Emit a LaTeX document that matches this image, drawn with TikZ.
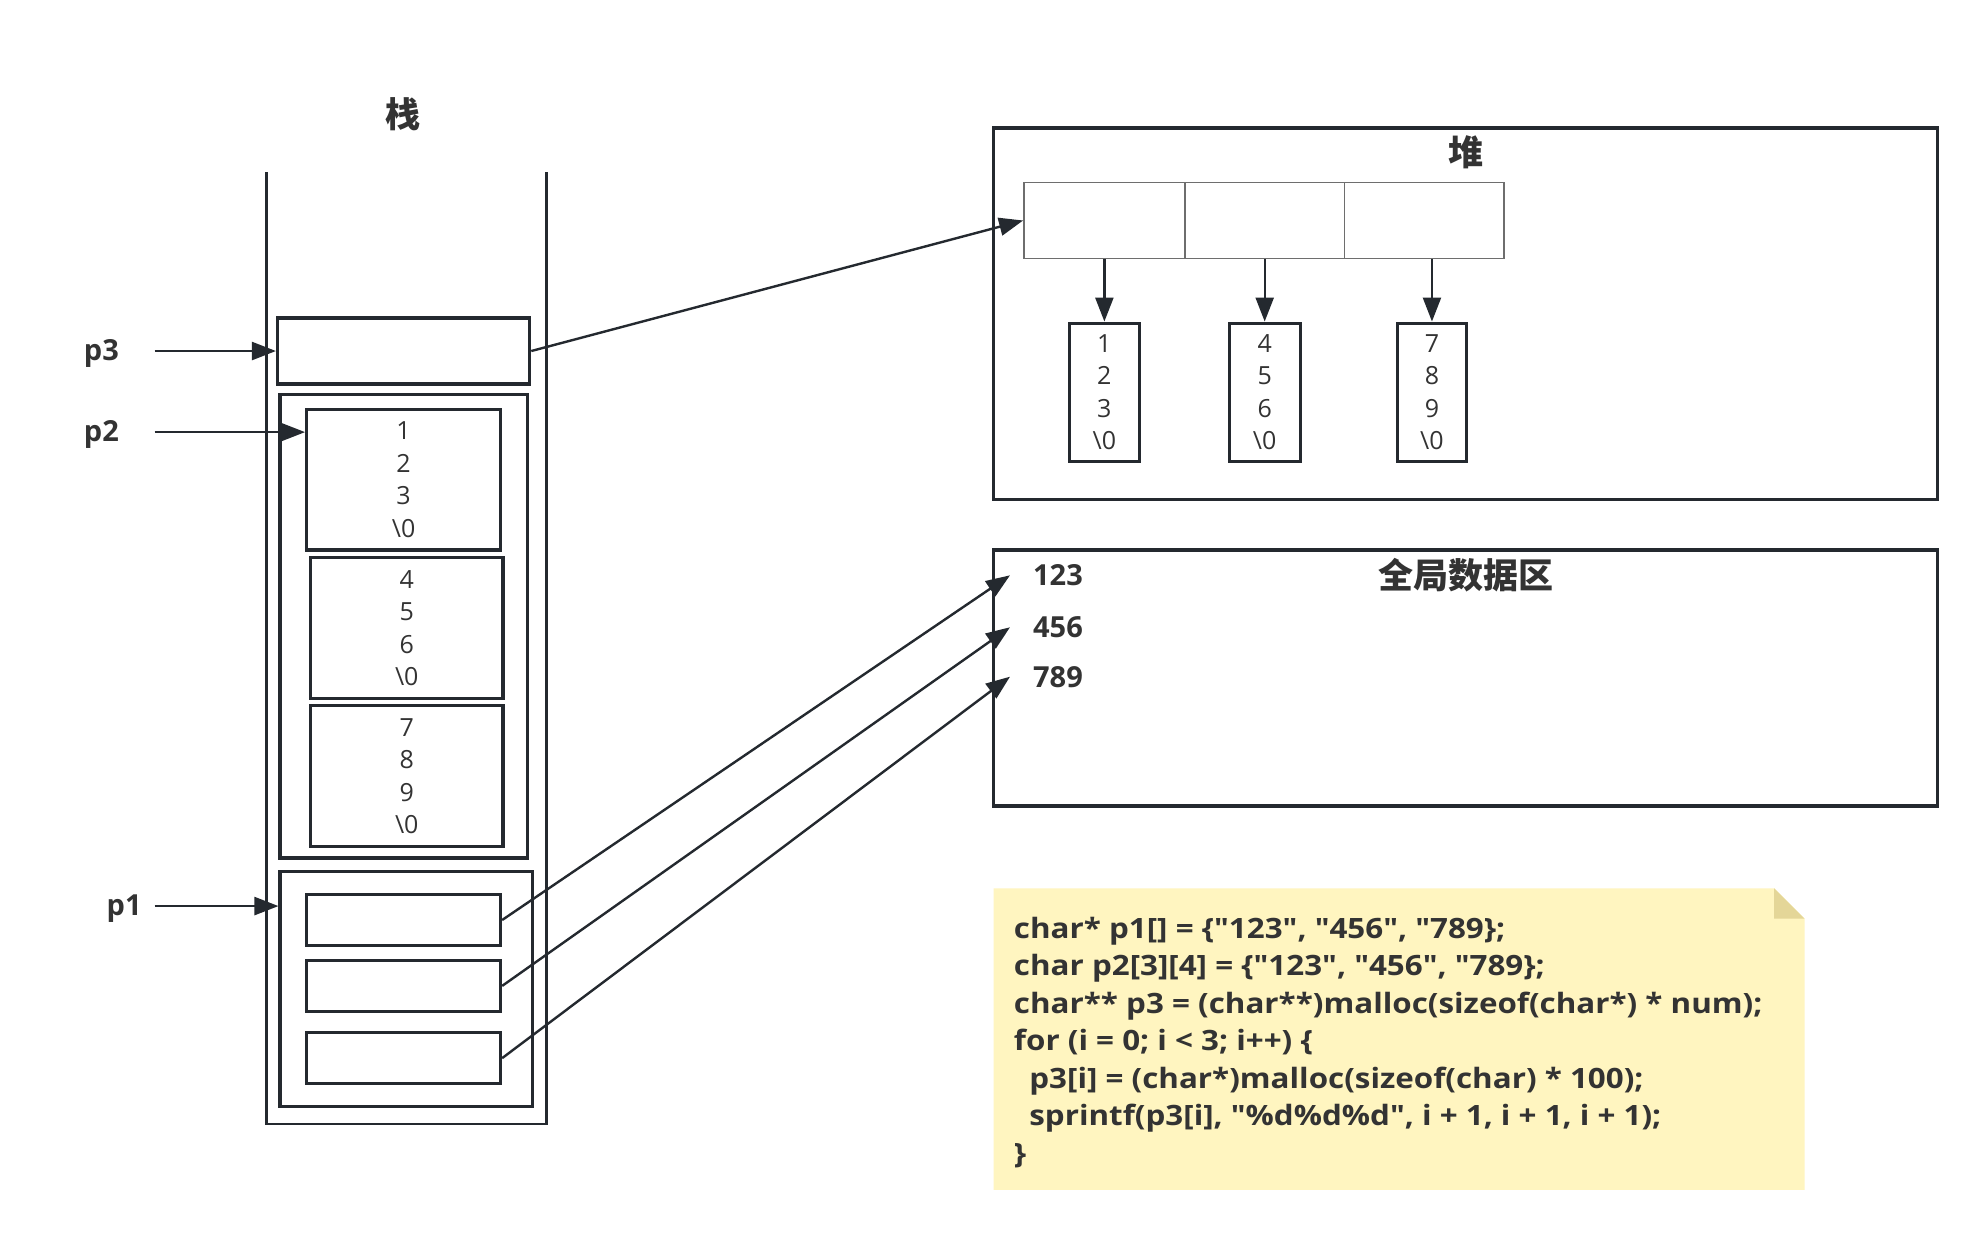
\documentclass[tikz,border=0pt]{standalone}
\usepackage{fontspec}
\newfontfamily\osans{Open Sans}
\newfontfamily\osanswide{Open Sans}[FakeStretch=1.12]
\newfontfamily\cjk{Noto Sans CJK SC}
\usetikzlibrary{arrows.meta,fit}
\definecolor{ink}{RGB}{36,41,47}
\definecolor{txt}{RGB}{51,51,51}
\definecolor{cellgray}{RGB}{110,110,110}
\definecolor{notefill}{RGB}{255,245,192}
\definecolor{notefold}{RGB}{228,214,152}
\begin{document}
\begin{tikzpicture}[x=1.2672pt,y=-1.2672pt,
  box/.style={draw=ink,line width=3.2pt,inner sep=0pt},
  cell/.style={draw=cellgray,line width=1.6pt,inner sep=0pt},
  conn/.style={draw=ink,line width=2.4pt,-{Triangle[length=24pt,width=18pt]}},
  num/.style={text=txt,font=\osans\fontsize{25}{32.5}\selectfont,align=center,inner sep=0pt},
  ptr/.style={text=txt,font=\osans\bfseries\fontsize{29}{34}\selectfont,inner sep=0pt},
  glbl/.style={ptr,anchor=west,inner xsep=23pt,inner ysep=0pt},
  title/.style={text=txt,font=\cjk\bfseries\fontsize{35}{40}\selectfont,inner sep=0pt},
  codeline/.style={text=txt,font=\osanswide\bfseries\fontsize{28}{30}\selectfont,inner sep=0pt,anchor=base west},
]
\useasboundingbox[fill=white] (0,0) rectangle (1568,979);

% ---------- stack ----------
\node[title] (tstack) at (318,90) {栈};
\draw[ink,line width=2.8pt] (210,136) -- (210,887) -- (431,887) -- (431,136);

\node[box,fit={(219,251) (418,303)}] (p3box) {};

\node[box,fit={(221,311) (416,677)}] (p2out) {};
\node[box,fit={(242,323) (395,434)}] (p2a) {};
\node[box,fit={(245,440) (397,551)}] (p2b) {};
\node[box,fit={(245,557) (397,668)}] (p2c) {};
\node[num] (tp2a) at (p2a.center) {1\\2\\3\\\textbackslash 0};
\node[num] (tp2b) at (p2b.center) {4\\5\\6\\\textbackslash 0};
\node[num] (tp2c) at (p2c.center) {7\\8\\9\\\textbackslash 0};

\node[box,fit={(221,688) (420,873)}] (p1out) {};
\node[box,fit={(242,706) (395,746)}] (p1a) {};
\node[box,fit={(242,758) (395,798)}] (p1b) {};
\node[box,fit={(242,815) (395,855)}] (p1c) {};

% pointer labels
\node[ptr] (lp3) at (80,279) {p3};
\node[ptr] (lp2) at (80,343) {p2};
\node[ptr] (lp1) at (98,717) {p1};
\coordinate (s3) at (122,277);
\coordinate (s2) at (122,341);
\coordinate (s1) at (122,715);
\draw[conn] (s3) -- (s3 -| p3box.west);
\draw[conn] (s2) -- (s2 -| p2a.west);
\draw[conn] (s1) -- (s1 -| p1out.west);

% ---------- heap ----------
\node[box,fit={(784,101) (1529,394)}] (heap) {};
\node[title] (theap) at (1157,120) {堆};
\node[cell,fit={(808,144) (935,204)}] (c1) {};
\node[cell,fit={(935,144) (1061,204)}] (c2) {};
\node[cell,fit={(1061,144) (1187,204)}] (c3) {};
\node[box,fit={(844,255) (899,364)}] (hb1) {};
\node[box,fit={(970,255) (1026,364)}] (hb2) {};
\node[box,fit={(1103,255) (1157,364)}] (hb3) {};
\node[num] (thb1) at (hb1.center) {1\\2\\3\\\textbackslash 0};
\node[num] (thb2) at (hb2.center) {4\\5\\6\\\textbackslash 0};
\node[num] (thb3) at (hb3.center) {7\\8\\9\\\textbackslash 0};
\draw[conn] (c1.south -| hb1.north) -- (hb1.north);
\draw[conn] (c2.south -| hb2.north) -- (hb2.north);
\draw[conn] (c3.south -| hb3.north) -- (hb3.north);
\draw[conn] (p3box.east) -- (c1.west);

% ---------- global data ----------
\node[box,fit={(784,434) (1529,636)}] (glob) {};
\node[title] (tglob) at (1157,454) {全局数据区};
\node[glbl] (g1) at (797,454) {123};
\node[glbl] (g2) at (797,495) {456};
\node[glbl] (g3) at (797,534) {789};
\draw[conn] (p1a.east) -- (g1.west);
\draw[conn] (p1b.east) -- (g2.west);
\draw[conn] (p1c.east) -- (g3.west);

% ---------- note ----------
\path[fill=notefill] (784,701) -- (1400,701) -- (1424,725) -- (1424,939) -- (784,939) -- cycle;
\path[fill=notefold] (1400,701) -- (1400,725) -- (1424,725) -- cycle;
\node[codeline] (k1) at (800,740.5) {char* p1[] = \{"123", "456", "789\};};
\node[codeline] (k2) at (800,770.1) {char p2[3][4] = \{"123", "456", "789\};};
\node[codeline] (k3) at (800,799.7) {char** p3 = (char**)malloc(sizeof(char*) * num);};
\node[codeline] (k4) at (800,829.3) {for (i = 0; i < 3; i++) \{};
\node[codeline] (k5) at (800,858.9) {\hspace*{0.55em}p3[i] = (char*)malloc(sizeof(char) * 100);};
\node[codeline] (k6) at (800,888.5) {\hspace*{0.55em}sprintf(p3[i], "\%d\%d\%d", i + 1, i + 1, i + 1);};
\node[codeline] (k7) at (800,918.1) {\}};
\end{tikzpicture}
\end{document}
